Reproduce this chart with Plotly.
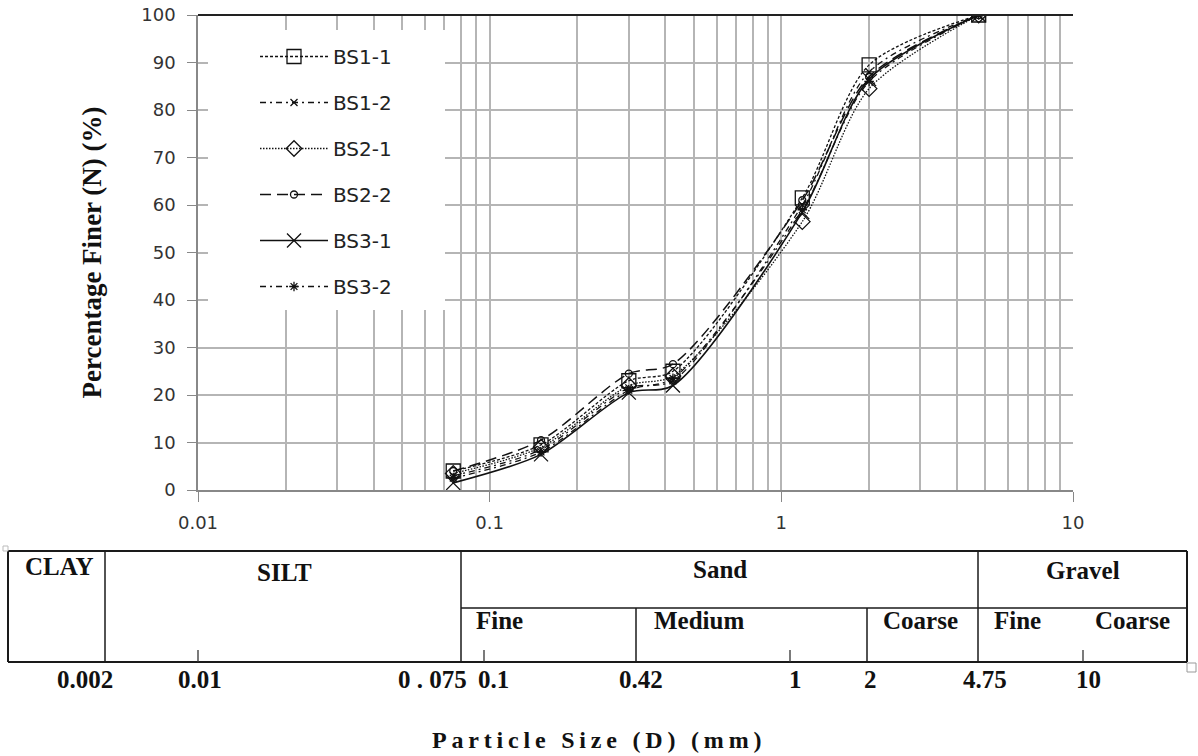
import plotly.graph_objects as go

# ---------------- data ----------------
sieve_sizes = [0.075, 0.15, 0.3, 0.425, 1.18, 2.0, 4.75]
bs1_1 = [4.0, 9.5, 23.0, 25.0, 61.5, 89.5, 100]
bs1_2 = [3.0, 8.5, 21.5, 23.0, 60.0, 88.0, 100]
bs2_1 = [3.5, 9.0, 22.0, 24.0, 56.5, 84.5, 100]
bs2_2 = [4.0, 10.5, 24.5, 26.5, 61.0, 87.0, 100]
bs3_1 = [1.5, 7.5, 20.5, 22.0, 58.5, 86.5, 100]
bs3_2 = [2.5, 8.0, 21.0, 23.5, 59.0, 86.0, 100]

series_names = ["BS1-1", "BS1-2", "BS2-1", "BS2-2", "BS3-1", "BS3-2"]
x_tick_vals = [0.01, 0.1, 1, 10]
x_tick_text = ["0.01", "0.1", "1", "10"]

# classification table below the chart
main_classes = ["CLAY", "SILT", "Sand", "Gravel"]
sub_classes = ["Fine", "Medium", "Coarse", "Fine", "Coarse"]
table_numbers = ["0.002", "0.01", "0 . 075", "0.1", "0.42", "1", "2", "4.75", "10"]

# ---------------- layout geometry (pixels) ----------------
W, H = 1198, 756
L, R, T, B = 198, 125, 15, 266
PW, PH = W - L - R, H - T - B


def px(x):
    return (x - L) / PW


def py(y):
    return (H - B - y) / PH


styles = [
    dict(dash="3px,2px", symbol="square-open", size=14, width=1.3),
    dict(dash="6px,4px,2px,4px", symbol="x-thin-open", size=7, width=1.3),
    dict(dash="1.5px,1.5px", symbol="diamond-open", size=12, width=1.3),
    dict(dash="11px,6px", symbol="circle-open", size=7, width=1.5),
    dict(dash="solid", symbol="x-thin-open", size=14, width=1.6),
    dict(dash="6px,4px,2px,4px", symbol="asterisk-open", size=8, width=1.3),
]
all_series = [bs1_1, bs1_2, bs2_1, bs2_2, bs3_1, bs3_2]

fig = go.Figure()
for name, ys, st, i in zip(series_names, all_series, styles, range(6)):
    fig.add_trace(go.Scatter(
        x=sieve_sizes, y=ys, name=name, mode="lines+markers",
        legendgroup=f"g{i}",
        line=dict(color="#111111", width=st["width"], dash=st["dash"], shape="spline", smoothing=0.8),
        marker=dict(symbol=st["symbol"], size=st["size"], color="#111111",
                    line=dict(color="#111111", width=1.3)),
    ))

minor_vals = [m * 10 ** e for e in (-2, -1, 0) for m in range(2, 10)]

fig.update_xaxes(
    type="log", range=[-2, 1], automargin=False,
    tickvals=x_tick_vals, ticktext=x_tick_text,
    ticks="outside", ticklen=10, tickcolor="#888888", tickwidth=1.2,
    showline=True, linecolor="#888888", linewidth=1.5,
    showgrid=True, gridcolor="#b5b5b5", gridwidth=1.5,
    minor=dict(tickvals=minor_vals, showgrid=True, gridcolor="#b5b5b5", gridwidth=1.5, ticks=""),
    tickfont=dict(family="DejaVu Sans", size=18, color="#333333"),
    ticklabelstandoff=6,
    zeroline=False,
)
fig.update_yaxes(
    range=[0, 100], dtick=10, automargin=False,
    ticks="outside", ticklen=9, tickcolor="#888888", tickwidth=1.2,
    showline=True, linecolor="#888888", linewidth=1.5,
    showgrid=True, gridcolor="#b5b5b5", gridwidth=1.5,
    tickfont=dict(family="DejaVu Sans", size=18, color="#333333"),
    ticklabelstandoff=8,
    zeroline=False,
    title=dict(text="<b>Percentage Finer (N) (%)</b>",
               font=dict(family="Liberation Serif", size=27, color="#111111"),
               standoff=32),
)

shapes = []
# dark top border
shapes.append(dict(type="line", xref="paper", yref="paper", x0=0, x1=1, y0=1, y1=1,
                   line=dict(color="#222222", width=2), layer="above"))
# white legend box
shapes.append(dict(type="rect", xref="paper", yref="paper",
                   x0=px(208), x1=px(445), y0=py(310), y1=py(30),
                   fillcolor="white", line=dict(width=0), layer="above"))

# classification table
tl = dict(color="#1a1a1a", width=2)
tl2 = dict(color="#1a1a1a", width=1.5)


def hline(x0, x1, y, ln):
    shapes.append(dict(type="line", xref="paper", yref="paper",
                       x0=px(x0), x1=px(x1), y0=py(y), y1=py(y), line=ln))


def vline(x, y0, y1, ln):
    shapes.append(dict(type="line", xref="paper", yref="paper",
                       x0=px(x), x1=px(x), y0=py(y0), y1=py(y1), line=ln))


t_top, t_mid, t_bot = 551, 608, 662
t_left, t_right = 8, 1187
hline(t_left, t_right, t_top, tl)
hline(t_left, t_right, t_bot, tl)
hline(461, t_right, t_mid, tl2)
vline(t_left, t_top, t_bot, tl)
vline(t_right, t_top, t_bot, tl)
for xv in (105, 461, 978):
    vline(xv, t_top, t_bot, tl2)
for xv in (636, 867):
    vline(xv, t_mid, t_bot, tl2)
for xv in (198, 484, 790, 1083):
    vline(xv, t_bot - 12, t_bot, dict(color="#333333", width=1.3))
# small corner marks
shapes.append(dict(type="rect", xref="paper", yref="paper",
                   x0=px(1187), x1=px(1196), y0=py(672), y1=py(663),
                   line=dict(color="#999999", width=1), fillcolor="white"))
shapes.append(dict(type="rect", xref="paper", yref="paper",
                   x0=px(3), x1=px(8), y0=py(551), y1=py(546),
                   line=dict(color="#bbbbbb", width=1), fillcolor="rgba(0,0,0,0)"))

annotations = []
serif = dict(family="Liberation Serif", size=25, color="#111111")


def label(text, x, y, anchor="center", font=serif):
    annotations.append(dict(text=f"<b>{text}</b>", xref="paper", yref="paper",
                            x=px(x), y=py(y), xanchor=anchor, yanchor="middle",
                            showarrow=False, font=font))


label(main_classes[0], 59, 566)
label(main_classes[1], 284, 572)
label(main_classes[2], 720, 569)
label(main_classes[3], 1083, 570)
label(sub_classes[0], 474, 620, "left")
label(sub_classes[1], 652, 620, "left")
label(sub_classes[2], 920, 620)
label(sub_classes[3], 992, 620, "left")
label(sub_classes[4], 1132, 620)

num_x = [85, 200, 432, 493, 641, 795, 870, 985, 1088]
for t, xv in zip(table_numbers, num_x):
    label(t, xv, 679)

spaced = "\u2009".join(list("Particle Size (D) (mm)"))
annotations.append(dict(text=f"<b>{spaced}</b>", xref="paper", yref="paper",
                        x=px(596), y=py(740), xanchor="center", yanchor="middle",
                        showarrow=False, font=dict(family="Liberation Serif", size=24, color="#111111")))

fig.update_layout(
    width=W, height=H,
    margin=dict(l=L, r=R, t=T, b=B, pad=0),
    paper_bgcolor="white", plot_bgcolor="white",
    shapes=shapes, annotations=annotations,
    showlegend=True,
    legend=dict(x=px(255), y=py(37), xanchor="left", yanchor="top",
                bgcolor="rgba(255,255,255,0)", borderwidth=0,
                itemwidth=68, tracegroupgap=17,
                font=dict(family="DejaVu Sans", size=20, color="#222222")),
)

fig.write_html("out.html")
